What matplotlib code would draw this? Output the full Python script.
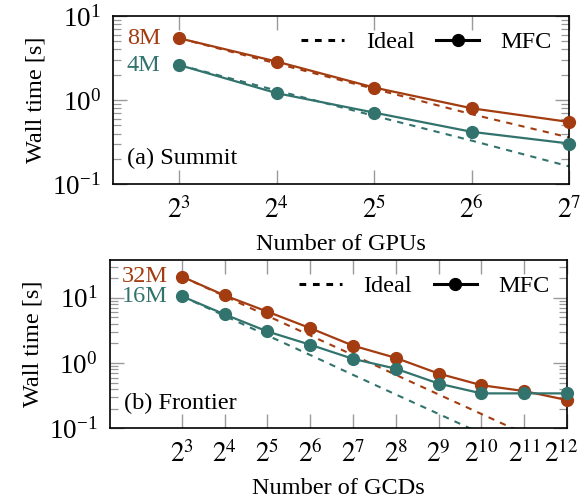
import numpy as np
import matplotlib
matplotlib.use("Agg")
import matplotlib.pyplot as plt
import matplotlib.transforms as mtransforms
from matplotlib.lines import Line2D
from matplotlib.ticker import FixedLocator, FixedFormatter, LogLocator, NullFormatter

plt.rcParams["font.family"] = ["Liberation Serif", "DejaVu Serif"]
plt.rcParams["mathtext.fontset"] = "stix"

# ---- data ----
summit_gpus = [8, 16, 32, 64, 128]
summit_8m = [5.43, 2.87, 1.41, 0.80, 0.55]
summit_4m = [2.61, 1.21, 0.71, 0.42, 0.305]
summit_8m_ideal = [5.43, 2.72, 1.36, 0.68, 0.36]
summit_4m_ideal = [2.61, 1.30, 0.65, 0.33, 0.163]

frontier_gcds = [8, 16, 32, 64, 128, 256, 512, 1024, 2048, 4096]
frontier_32m = [21.2, 10.9, 6.14, 3.43, 1.85, 1.20, 0.69, 0.458, 0.372, 0.271]
frontier_16m = [10.6, 5.58, 3.05, 1.91, 1.16, 0.82, 0.485, 0.343, 0.343, 0.343]
frontier_32m_ideal = [21.2, 10.6, 5.3, 2.65, 1.33, 0.66, 0.33, 0.166, 0.083, 0.041]
frontier_16m_ideal = [10.6, 5.3, 2.65, 1.33, 0.66, 0.33, 0.166, 0.083, 0.041, 0.021]

RED = "#a33c10"
TEAL = "#32736d"
FS = 17.5
TFS = 19.5
TICKC = "#9a9a9a"


def style_axes(ax, xs, xlim, ylim):
    ax.set_xscale("log", base=2)
    ax.set_yscale("log")
    ax.set_xlim(*xlim)
    ax.set_ylim(*ylim)
    ax.xaxis.set_major_locator(FixedLocator(xs))
    ax.xaxis.set_major_formatter(FixedFormatter([r"$2^{%d}$" % int(np.log2(v)) for v in xs]))
    ax.xaxis.set_minor_locator(FixedLocator([]))
    ax.yaxis.set_minor_locator(LogLocator(base=10, subs=np.arange(2, 10)))
    ax.yaxis.set_minor_formatter(NullFormatter())
    ax.tick_params(which="both", direction="in", top=True, right=True,
                   color=TICKC, labelsize=TFS, pad=9)
    ax.tick_params(which="major", length=10, width=1.0)
    ax.tick_params(which="minor", length=6, width=0.9)
    for s in ax.spines.values():
        s.set_linewidth(1.2)
    ax.set_ylabel("Wall time [s]", fontsize=FS, labelpad=4)


def draw(ax, xs, big, small, big_ideal, small_ideal, big_lbl, small_lbl, off):
    for ys, ideal, c, lbl in [(big, big_ideal, RED, big_lbl), (small, small_ideal, TEAL, small_lbl)]:
        ax.plot(xs, ideal, color=c, lw=1.5, dashes=(3, 3), zorder=2)
        ax.plot(xs, ys, color=c, lw=1.6, marker="o", markersize=8.5, clip_on=False, zorder=3)
        ax.annotate(lbl, (xs[0], ys[0]), xytext=(-off, 0), textcoords="offset pixels",
                    ha="right", va="center", color=c, fontsize=FS)
    handles = [Line2D([], [], color="black", lw=2.2, dashes=(2.2, 2.2)),
               Line2D([], [], color="black", lw=2.2, marker="o", markersize=8.5)]
    ax.legend(handles, ["Ideal", "MFC"], ncol=2, frameon=False, fontsize=FS,
              loc="upper right", bbox_to_anchor=(1.01, 1.04),
              handlelength=1.75, handletextpad=0.9, columnspacing=0.9)


fig = plt.figure(figsize=(5.81, 5.0), dpi=100)
ax1 = fig.add_axes([0.195, 0.6314, 0.7849, 0.3366])
ax2 = fig.add_axes([0.1893, 0.1434, 0.7866, 0.3366])

draw(ax1, summit_gpus, summit_8m, summit_4m, summit_8m_ideal, summit_4m_ideal, "8M", "4M", 19)
style_axes(ax1, summit_gpus, (5, 128), (0.1, 10))
ax1.set_xlabel("Number of GPUs", fontsize=FS, labelpad=7)
ax1.text(0.031, 0.155, "(a) Summit", transform=ax1.transAxes, fontsize=FS, va="center")

draw(ax2, frontier_gcds, frontier_32m, frontier_16m, frontier_32m_ideal, frontier_16m_ideal, "32M", "16M", 14)
style_axes(ax2, frontier_gcds, (2.5, 4096), (0.1, 38))
ax2.set_xlabel("Number of GCDs", fontsize=FS, labelpad=7)
ax2.text(0.031, 0.15, "(b) Frontier", transform=ax2.transAxes, fontsize=FS, va="center")

# keep the last GCD label inside the canvas
fig.canvas.draw()
last = ax2.get_xticklabels()[-1]
last.set_transform(last.get_transform() + mtransforms.ScaledTranslation(-6 / 100, 0, fig.dpi_scale_trans))

fig.savefig("out.png", dpi=100)
